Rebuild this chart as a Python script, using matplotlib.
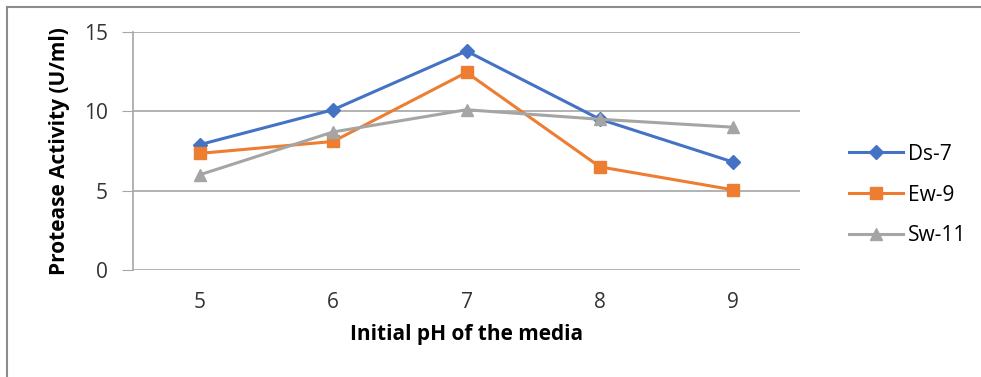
import matplotlib.pyplot as plt
from matplotlib.lines import Line2D

plt.rcParams['font.family'] = ['Open Sans', 'DejaVu Sans']

ph = [5, 6, 7, 8, 9]
ds7 = [7.9, 10.1, 13.8, 9.5, 6.8]
ew9 = [7.35, 8.1, 12.45, 6.5, 5.05]
sw11 = [6.0, 8.7, 10.1, 9.5, 9.0]

W, H = 981, 377
fig = plt.figure(figsize=(W / 100, H / 100), dpi=100)
ax = fig.add_axes([133 / W, 1 - 270 / H, (800 - 133) / W, (270 - 32) / H])

ax.plot(ph, ds7, color='#4472C4', lw=2.2, marker='D', ms=7, label='Ds-7')
ax.plot(ph, ew9, color='#ED7D31', lw=2.2, marker='s', ms=8, label='Ew-9')
ax.plot(ph, sw11, color='#A5A5A5', lw=2.2, marker='^', ms=9, label='Sw-11')

ax.set_xlim(4.5, 9.5)
ax.set_ylim(0, 15)
ax.set_xticks(ph)
ax.set_yticks([0, 5, 10, 15])
ax.grid(axis='y', color='#A6A6A6', lw=1.2)
ax.set_axisbelow(True)
for s in ('top', 'right', 'bottom'):
    ax.spines[s].set_visible(False)
ax.spines['left'].set_color('#A6A6A6')
ax.spines['left'].set_linewidth(1.2)
ax.tick_params(axis='y', length=8, color='#A6A6A6', labelsize=15, pad=10, labelcolor='#333333')
ax.tick_params(axis='x', length=0, labelsize=15, pad=16, labelcolor='#333333')

ax.set_xlabel('Initial pH of the media', fontsize=15, fontweight='bold', labelpad=8)
ax.set_ylabel('Protease Activity (U/ml)', fontsize=15, fontweight='bold', labelpad=10)

leg = fig.legend(loc='upper left', bbox_to_anchor=(830 / W, 1 - 125 / H),
                 frameon=False, fontsize=15, handlelength=2.6,
                 labelspacing=0.95, handletextpad=0.25)

# outer frame: top and left edges only
fig.add_artist(Line2D([7 / W, 1], [1 - 6.5 / H, 1 - 6.5 / H], color='#8C8C8C', lw=1.5))
fig.add_artist(Line2D([7 / W, 7 / W], [0, 1 - 6.5 / H], color='#8C8C8C', lw=1.5))

fig.savefig('out.png', dpi=100)
